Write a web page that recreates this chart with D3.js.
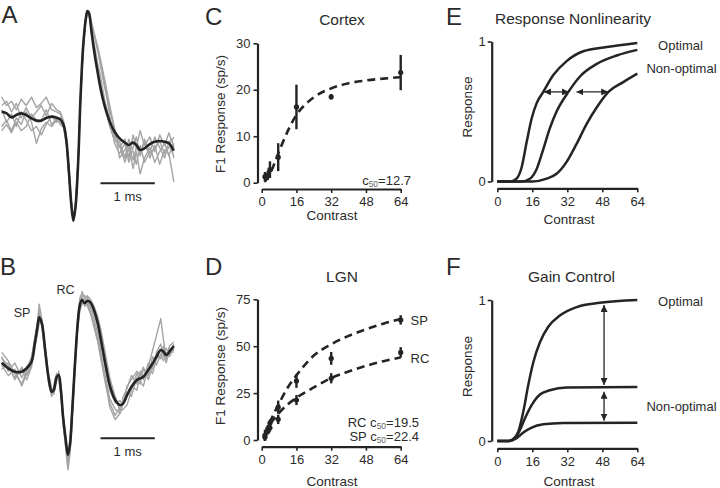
<!DOCTYPE html>
<html><head><meta charset="utf-8">
<script src="https://cdn.jsdelivr.net/npm/d3@7"></script>
<style>
body{margin:0;background:#fff;}
svg{display:block;font-family:"Liberation Sans",Arial,Helvetica,sans-serif;}
</style></head><body>
<svg id="chart" width="720" height="488"></svg>
<script>
// ---------- Panel A: cortical spike waveform (time in ms, voltage in a.u.) ----------
const timeA = [0,0.09,0.18,0.27,0.36,0.45,0.55,0.64,0.73,0.82,0.92,1.01,1.08,1.14,1.19,1.24,1.28,1.32,1.36,1.41,1.45,1.50,1.55,1.58,1.61,1.65,1.70,1.76,1.82,1.90,1.99,2.08,2.17,2.27,2.34,2.42,2.48,2.55,2.63,2.73,2.82,2.91,3.00,3.08,3.13,3.17];
const meanA = [4,2.5,-1.3,1,2.5,1,-2.2,-4.4,-4.4,-1.9,-0.6,-1.6,-3.2,-8.6,-22.9,-54.6,-83,-99.7,-86.4,-41.9,15.2,66,93,100,97.8,81.9,62.9,43.8,26.4,8.9,-5.4,-15,-21.3,-25.4,-27.6,-25.4,-27.6,-32.4,-30.8,-26.7,-24.5,-23.8,-24.5,-26,-29.2,-33];
const trialA1 = [18,10,14,6,16,10,18,8,12,18,6,4,2,-6,-20,-52,-80,-97,-84,-40,17,67,94,100,98,90,80,66,48,26,6,-14,-30,-22,-40,-18,-30,-14,-28,-20,-34,-18,-28,-16,-24,-20];
const trialA2 = [-10,-4,-14,-2,-8,4,-6,-26,-12,-6,-10,-4,-6,-10,-25,-57,-85,-100,-88,-44,13,64,92,99,96,84,70,52,38,14,-4,-20,-28,-44,-30,-50,-34,-55,-40,-30,-44,-34,-26,-38,-30,-40];
const trialA3 = [6,-6,2,-10,4,-4,-14,-10,-18,-8,0,-6,-2,-8,-22,-53,-82,-98,-85,-41,16,66,93,100,97,88,78,64,50,30,0,-26,-36,-26,-44,-30,-20,-38,-24,-40,-28,-46,-32,-36,-50,-63];
const trialA4 = [-14,-8,-16,-6,-14,-10,2,-4,-4,6,-8,-2,-8,-11,-26,-58,-86,-100,-88,-45,12,63,91,99,96,83,66,48,32,10,-10,-24,-24,-40,-22,-34,-46,-28,-44,-34,-20,-30,-40,-24,-34,-26];
const trialA5 = [10,14,4,12,-2,8,-2,4,10,0,12,6,4,-5,-19,-50,-80,-97,-83,-39,18,68,94,100,98,87,78,68,54,34,10,-12,-40,-32,-28,-42,-30,-36,-22,-36,-30,-24,-36,-30,-22,-30];

// ---------- Panel B: LGN S-potential + RC spike ----------
const timeB = [0,0.12,0.24,0.37,0.46,0.55,0.61,0.66,0.69,0.74,0.80,0.86,0.92,0.96,1.01,1.05,1.09,1.13,1.18,1.22,1.26,1.30,1.35,1.40,1.44,1.48,1.53,1.58,1.64,1.70,1.77,1.84,1.92,1.99,2.09,2.18,2.24,2.31,2.39,2.49,2.55,2.61,2.70,2.78,2.85,2.93,2.98,3.03,3.09,3.17];
const meanB = [2.2,-3.1,-6.4,-6.4,-3.1,3.1,20.7,36.5,45.4,39.7,14.3,-11.1,-25.4,-23.8,-11.7,-9.5,-23.8,-49.2,-71.4,-85.7,-74.6,-42.9,1.6,39.7,57.1,61.9,58.8,61.2,59.3,52.4,39.7,20.7,-1.6,-19,-33.3,-38.1,-36.5,-28.6,-20.7,-14.3,-12.7,-11.1,-4.8,1.6,7.9,14.3,12.7,9.5,12.7,18.1];
const trialB1 = [8,-6,2,-12,-2,6,26,42,52,36,10,-16,-30,-20,-8,-14,-28,-56,-78,-92,-70,-38,6,44,64,68,66,64,56,44,30,8,-14,-32,-42,-46,-30,-22,-10,-18,-6,-14,2,-4,12,20,8,16,10,20];
const trialB2 = [-4,2,-14,-2,-10,0,16,30,40,42,18,-8,-22,-28,-14,-6,-20,-46,-70,-90,-80,-48,-4,34,52,58,60,56,48,36,22,2,-20,-36,-48,-40,-34,-26,-30,-12,-18,-4,-10,8,0,10,18,6,16,14];
const trialB3 = [12,4,-8,-18,-6,8,24,40,58,44,16,-14,-28,-24,-10,-12,-26,-54,-80,-100,-84,-50,-2,36,58,70,62,66,62,56,46,30,8,-12,-30,-44,-42,-38,-24,-8,-16,-20,-2,14,28,44,24,6,18,22];
const trialB4 = [0,-10,-4,-20,-8,2,18,34,44,38,12,-12,-24,-22,-16,-8,-22,-50,-74,-96,-76,-44,0,42,60,64,56,58,50,40,24,4,-18,-40,-52,-46,-36,-30,-20,-24,-8,-12,-4,-8,6,10,4,12,8,16];
const trialB5 = [6,0,-12,-4,-14,-2,22,38,48,40,14,-10,-26,-26,-12,-10,-24,-48,-72,-88,-72,-40,4,40,62,66,64,60,54,50,36,16,-6,-24,-36,-34,-38,-20,-14,-6,-10,-2,-14,0,10,6,14,2,14,12];
const scaleBarStartMs = 1.82, scaleBarLenMs = 1;

// ---------- Panel C: Cortex contrast response ----------
const cortexContrast = [1.5,2.8,3.8,7.6,16,32,64];
const cortexMean = [1.3,1.6,2.8,5.5,16.3,18.5,23.7];
const cortexErr = [1.0,1.0,1.8,3.0,4.8,0.6,3.8];
const cortexFitContrast = [1.2,2,4,6,8,10,12.7,16,20,24,32,40,48,56,64];
const cortexFitResp = [0.2,0.55,2.1,4.3,6.7,9.0,11.8,14.6,16.8,18.4,20.3,21.4,22.0,22.4,22.7];

// ---------- Panel D: LGN contrast response ----------
const lgnContrast = [1.5,2.8,3.8,7.6,16,32,64];
const spMean = [2.5,6,9,17.5,31.5,43.5,64];
const spErr = [3,2,2,3.5,3.7,3.4,2.5];
const rcMean = [1.5,4.5,6.5,11,21.3,32.9,46.7];
const rcErr = [2,1.5,2,2.5,2.7,2.7,2.8];
const spFitContrast = [1.5,2,4,8,12,16,24,32,40,48,56,64];
const spFitResp = [2.5,4.2,10,19.5,28,34.5,45,51,55.5,59,62,64.5];
const rcFitContrast = [1.5,2,4,8,12,16,24,32,40,48,56,64];
const rcFitResp = [2.5,4,8.5,14.5,19,22.5,28,33,36.5,39.5,42,44];

// ---------- Panel E: Response nonlinearity ----------
const nlOptContrast = [0,6,8.8,11.1,13.4,15.7,18,21,25.6,31.7,39.3,50,64];
const nlOptResp = [0,0,0.02,0.10,0.28,0.45,0.56,0.64,0.76,0.86,0.93,0.96,0.99];
const nlMidContrast = [0,11,14.9,18,21,24,27.1,32.5,37.8,45.5,54.6,64];
const nlMidResp = [0,0,0.02,0.09,0.23,0.38,0.50,0.64,0.75,0.84,0.90,0.94];
const nlLowContrast = [0,16,22.6,27.1,31.7,36.3,40.8,45.5,50.8,57.6,64];
const nlLowResp = [0,0,0.02,0.055,0.14,0.27,0.41,0.53,0.64,0.71,0.77];
const nlArrowFrom = [21.3,36.2];
const nlArrowTo = [32.8,50.7];
const nlArrowLevel = 0.64;

// ---------- Panel F: Gain control ----------
const gcOptContrast = [0,5,7.3,9.6,11.9,14.2,16.5,19.5,23.3,28.6,36.3,46.9,64];
const gcOptResp = [0,0,0.014,0.066,0.21,0.40,0.56,0.70,0.81,0.89,0.95,0.98,1.0];
const gcMidContrast = [0,5,8.1,10.4,12.6,15.7,19.5,24,31.7,64];
const gcMidResp = [0,0,0.02,0.08,0.16,0.255,0.33,0.36,0.38,0.383];
const gcLowContrast = [0,5.5,8.8,11.9,15.7,21,30.2,64];
const gcLowResp = [0,0,0.02,0.06,0.095,0.118,0.128,0.13];
const gcArrowTop = [0.965,0.35];
const gcArrowBottom = [0.397,0.144];
const gcArrowContrast = 48.8;

// ---------- tick labels ----------
const contrastTicks = [0,16,32,48,64];
const cortexTicks = [0,10,20,30];
const lgnTicks = [0,25,50,75];
const unitTicks = [0,1];

// ================= drawing =================
const INK = '#242424', TXT = '#2b2b2b', GRAY = '#a4a4a4';
const svg = d3.select('#chart');
const defs = svg.append('defs');
defs.append('marker').attr('id','ah').attr('viewBox','0 0 10 10')
  .attr('refX',10).attr('refY',5).attr('markerWidth',7).attr('markerHeight',7)
  .attr('markerUnits','userSpaceOnUse').attr('orient','auto-start-reverse')
  .append('path').attr('d','M0,0L10,5L0,10Z').attr('fill',INK);

function text(x, y, s, size, anchor, rotate) {
  const t = svg.append('text').attr('x', x).attr('y', y).attr('font-size', size)
    .attr('fill', TXT).attr('text-anchor', anchor || 'start').text(s);
  if (rotate) t.attr('transform', `rotate(-90 ${x} ${y})`).attr('dy', '0.35em');
  return t;
}

// panel letters
[['A',1.5,22.5],['B',0,275],['C',205,24.5],['D',205,275],['E',446,24.5],['F',446,275]]
  .forEach(([s,x,y]) => text(x, y, s, 24));

// ---- traces ----
const xTrace = d3.scaleLinear().domain([0, 3.17]).range([1.7, 173.8]);
function drawTraces(time, mean, trials, yS, barY) {
  const g = svg.append('g');
  trials.forEach(tr => {
    g.append('path').datum(tr.map((v,i)=>[time[i], v]))
      .attr('d', d3.line().x(d=>xTrace(d[0])).y(d=>yS(d[1])))
      .attr('fill','none').attr('stroke',GRAY).attr('stroke-width',1.4).attr('stroke-linejoin','round');
  });
  g.append('path').datum(mean.map((v,i)=>[time[i], v]))
    .attr('d', d3.line().curve(d3.curveCatmullRom.alpha(0.5)).x(d=>xTrace(d[0])).y(d=>yS(d[1])))
    .attr('fill','none').attr('stroke',INK).attr('stroke-width',2.6).attr('stroke-linejoin','round');
  g.append('line').attr('x1', xTrace(scaleBarStartMs)).attr('x2', xTrace(scaleBarStartMs + scaleBarLenMs))
    .attr('y1', barY).attr('y2', barY).attr('stroke', INK).attr('stroke-width', 2);
  text((xTrace(scaleBarStartMs) + xTrace(scaleBarStartMs + scaleBarLenMs))/2, barY + 17.5, '1 ms', 13, 'middle');
}
const yTraceA = d3.scaleLinear().domain([-100, 100]).range([221, 11]);
const yTraceB = d3.scaleLinear().domain([-100, 100]).range([470, 260]);
drawTraces(timeA, meanA, [trialA1,trialA2,trialA3,trialA4,trialA5], yTraceA, 183.3);
drawTraces(timeB, meanB, [trialB1,trialB2,trialB3,trialB4,trialB5], yTraceB, 438.3);
text(22, 316.7, 'SP', 12.5, 'middle');
text(65.5, 294, 'RC', 12.5, 'middle');

// ---- axes helper ----
function axes(xS, yS, xAxisY, yAxisX, yTicks, yPad) {
  const gy = svg.append('g').attr('transform', `translate(${yAxisX},0)`)
    .call(d3.axisLeft(yS).tickValues(yTicks).tickFormat(d3.format('d')).tickSize(4).tickSizeOuter(0).tickPadding(yPad));
  const gx = svg.append('g').attr('transform', `translate(0,${xAxisY})`)
    .call(d3.axisBottom(xS).tickValues(contrastTicks).tickFormat(d3.format('d')).tickSize(4).tickSizeOuter(0).tickPadding(4));
  [gx, gy].forEach(g => {
    g.attr('font-size', 13).attr('font-family', null);
    g.select('.domain').attr('stroke', INK).attr('stroke-width', 2.2);
    g.selectAll('.tick line').attr('stroke', INK).attr('stroke-width', 1.6);
    g.selectAll('.tick text').attr('fill', TXT);
  });
}
function curve(xs, ys, xS, yS, dashed) {
  const p = svg.append('path').datum(xs.map((c,i)=>[c, ys[i]]))
    .attr('d', d3.line().curve(d3.curveMonotoneX).x(d=>xS(d[0])).y(d=>yS(d[1])))
    .attr('fill','none').attr('stroke',INK).attr('stroke-width', dashed ? 2.6 : 2.5);
  if (dashed) p.attr('stroke-dasharray','8,5');
}
function errPoints(cs, means, errs, xS, yS) {
  const g = svg.append('g');
  g.selectAll('line').data(cs).join('line')
    .attr('x1', c=>xS(c)).attr('x2', c=>xS(c))
    .attr('y1', (c,i)=>yS(means[i]-errs[i])).attr('y2', (c,i)=>yS(means[i]+errs[i]))
    .attr('stroke', INK).attr('stroke-width', 2.4);
  g.selectAll('circle').data(cs).join('circle')
    .attr('cx', c=>xS(c)).attr('cy', (c,i)=>yS(means[i])).attr('r', 2.6).attr('fill', INK);
}
function c50Label(x, y, prefix, val) {
  const t = svg.append('text').attr('x', x).attr('y', y).attr('text-anchor','end')
    .attr('font-size', 13).attr('fill', TXT);
  t.append('tspan').text(prefix + 'c');
  t.append('tspan').attr('font-size', 8.5).attr('dy', 2).attr('fill', '#666').text('50');
  t.append('tspan').attr('dy', -2).text('=' + val);
}

// ---- Panel C ----
const xC = d3.scaleLinear().domain([0,64]).range([261.7,400.7]);
const yC = d3.scaleLinear().domain([0,30]).range([182.7,43.3]);
axes(xC, yC, 189, 257.5, cortexTicks, 3);
curve(cortexFitContrast, cortexFitResp, xC, yC, true);
errPoints(cortexContrast, cortexMean, cortexErr, xC, yC);
text(342, 25, 'Cortex', 15.5, 'middle');
text(220.5, 114, 'F1 Response (sp/s)', 13.5, 'middle', true);
text(332, 220, 'Contrast', 13.5, 'middle');
c50Label(411, 185, '', '12.7');

// ---- Panel D ----
const yD = d3.scaleLinear().domain([0,75]).range([440,299.3]);
axes(xC, yD, 446.7, 257.5, lgnTicks, 3);
curve(spFitContrast, spFitResp, xC, yD, true);
curve(rcFitContrast, rcFitResp, xC, yD, true);
errPoints(lgnContrast, spMean, spErr, xC, yD);
errPoints(lgnContrast, rcMean, rcErr, xC, yD);
text(342, 282, 'LGN', 15.5, 'middle');
text(220.5, 366, 'F1 Response (sp/s)', 13.5, 'middle', true);
text(332, 486, 'Contrast', 13.5, 'middle');
text(410.5, 325, 'SP', 13, 'start');
text(410.5, 363, 'RC', 13, 'start');
c50Label(419, 427, 'RC ', '19.5');
c50Label(419, 441, 'SP ', '22.4');

// ---- Panel E ----
const xE = d3.scaleLinear().domain([0,64]).range([497.3,637.3]);
const yE = d3.scaleLinear().domain([0,1]).range([181.5,41.5]);
axes(xE, yE, 188.3, 491.7, unitTicks, 2);
curve(nlOptContrast, nlOptResp, xE, yE, false);
curve(nlMidContrast, nlMidResp, xE, yE, false);
curve(nlLowContrast, nlLowResp, xE, yE, false);
nlArrowFrom.forEach((c,i) => {
  svg.append('line').attr('x1', xE(c)).attr('x2', xE(nlArrowTo[i]))
    .attr('y1', yE(nlArrowLevel)).attr('y2', yE(nlArrowLevel))
    .attr('stroke', INK).attr('stroke-width', 1.3)
    .attr('marker-start','url(#ah)').attr('marker-end','url(#ah)');
});
text(573, 24, 'Response Nonlinearity', 15.5, 'middle');
text(467.5, 107, 'Response', 13.5, 'middle', true);
text(569, 224, 'Contrast', 13.5, 'middle');
text(680.5, 49.5, 'Optimal', 13, 'middle');
text(681.5, 73, 'Non-optimal', 13, 'middle');

// ---- Panel F ----
const yF = d3.scaleLinear().domain([0,1]).range([441,300]);
axes(xE, yF, 448.3, 491.7, unitTicks, 2);
curve(gcOptContrast, gcOptResp, xE, yF, false);
curve(gcMidContrast, gcMidResp, xE, yF, false);
curve(gcLowContrast, gcLowResp, xE, yF, false);
gcArrowTop.forEach((v,i) => {
  svg.append('line').attr('x1', xE(gcArrowContrast)).attr('x2', xE(gcArrowContrast))
    .attr('y1', yF(v)).attr('y2', yF(gcArrowBottom[i]))
    .attr('stroke', INK).attr('stroke-width', 1.3)
    .attr('marker-start','url(#ah)').attr('marker-end','url(#ah)');
});
text(571.5, 282, 'Gain Control', 15.5, 'middle');
text(467.5, 366.5, 'Response', 13.5, 'middle', true);
text(569, 486, 'Contrast', 13.5, 'middle');
text(680.5, 306, 'Optimal', 13, 'middle');
text(681.5, 410.5, 'Non-optimal', 13, 'middle');
</script>
</body></html>
